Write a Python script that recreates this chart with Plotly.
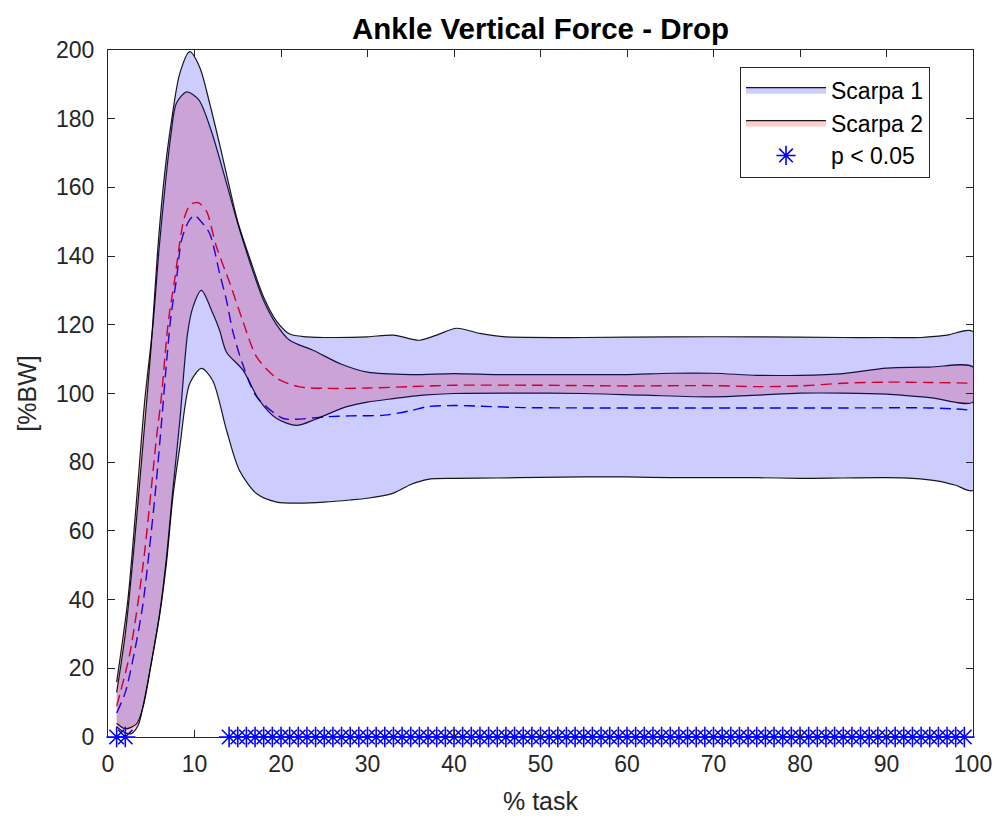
import plotly.graph_objects as go

# ---------------- data ----------------
# Scarpa 1 (blue) band
s1_upper_x = [1, 2, 3, 4, 5, 5.75, 6.55, 7.3, 8.3, 9.45, 10.6, 11.75, 13, 14, 15, 16.5, 18, 19.5, 21, 23, 26, 30, 33, 36, 38, 40.3, 43, 46, 55, 65, 75, 85, 90, 94, 97, 100]
s1_upper_y = [13, 30, 55, 84, 114, 142, 164, 178.7, 193.2, 199.5, 195, 184.5, 171.5, 160.5, 150, 138.5, 128, 121, 117.3, 116.5, 116.3, 116.5, 117, 115.5, 117, 119, 117.5, 116.5, 116.3, 116.5, 116.5, 116.3, 116.3, 116.3, 117, 118]
s1_lower_x = [1, 2, 3.3, 4.05, 5, 6, 6.75, 7.5, 8.3, 9.45, 10.8, 12.1, 13.7, 15.2, 17.2, 19.5, 22.2, 25, 28, 30, 33, 35, 37, 40, 45, 50, 55, 60, 65, 70, 75, 80, 85, 90, 93, 96, 98, 100]
s1_lower_y = [4, 2.4, 3.8, 8.7, 21.4, 36, 50.5, 69.9, 84.4, 102.9, 107.3, 103.8, 89.3, 77.6, 70.8, 68.4, 68.1, 68.4, 69, 69.5, 71, 73.5, 75, 75.3, 75.4, 75.6, 75.7, 75.7, 75.5, 75.5, 75.5, 75.3, 75.4, 75.5, 75.3, 74.5, 73.3, 71.8]
s1_mean_x = [1, 2, 3, 4, 4.8, 5.5, 6.2, 6.8, 7.3, 7.9, 8.5, 9.3, 10.0, 10.6, 11.75, 12.9, 13.7, 14.4, 15.5, 17.2, 20.2, 21.8, 25, 28, 32, 35, 37, 40, 43, 48, 55, 65, 75, 85, 95, 98, 100]
s1_mean_y = [7, 13, 24, 38, 55, 72, 92, 110, 123, 133, 144.6, 150, 151.9, 150.5, 146.6, 135, 127.1, 118.4, 109, 99, 92.8, 92.5, 93.2, 93.5, 93.7, 95, 96.2, 96.5, 96.3, 95.9, 95.8, 95.8, 95.8, 95.8, 95.8, 95.5, 95.1]

# Scarpa 2 (red) band
s2_upper_x = [1, 2.3, 3.3, 4.25, 5.2, 5.9, 6.75, 7.3, 7.9, 9.1, 10.5, 12, 13.5, 15, 16.5, 18, 19.5, 21, 23.7, 27, 30, 35, 40, 45, 50, 55, 60, 65, 70, 75, 80, 85, 90, 95, 100]
s2_upper_y = [16, 40, 69, 98, 120, 142, 164, 175.8, 184.5, 187.8, 185.5, 176, 163, 149.5, 137.5, 127, 120, 115.5, 112.6, 108.5, 106.2, 105.5, 105.8, 105.5, 105.5, 105.5, 105.5, 105.9, 105.9, 105.3, 105.3, 105.8, 107.4, 107.7, 107.7]
s2_lower_x = [1, 2, 2.7, 3.5, 4.05, 5, 6, 6.75, 7.5, 8.3, 9.2, 9.8, 10.8, 12.1, 12.9, 13.7, 15.6, 17.5, 19.5, 21.8, 24, 27.5, 30, 33, 36.4, 40, 46.7, 55, 62, 70, 75, 80, 85, 90, 95, 100]
s2_lower_y = [3, 1.2, 1, 3.5, 9, 21.5, 36.5, 52, 72, 92, 117.5, 125, 130, 123.4, 118.4, 112, 106.8, 98, 92.7, 90.7, 92.5, 96.1, 97.5, 98.5, 99.5, 100, 100.1, 100, 99.5, 99, 99.5, 100.1, 100.1, 99.8, 98.8, 97.5]
s2_mean_x = [1, 2.5, 4.05, 5.6, 6.17, 6.75, 7.1, 7.7, 8.3, 8.8, 9.5, 10.0, 10.5, 11.4, 12.5, 14.1, 15.6, 17.2, 19.5, 22, 25, 30, 35, 40, 50, 60, 70, 75, 80, 85, 90, 95, 100]
s2_mean_y = [9, 24, 50, 87, 99, 115.5, 123.4, 133, 144, 151, 155, 155.5, 155.5, 153, 143, 132, 121, 110.6, 104.5, 102, 101.5, 101.6, 102, 102.4, 102.4, 102.2, 102.3, 102, 102.2, 103, 103.3, 103.2, 103]

# % task positions with p < 0.05
sig_x = [1, 2, 14, 15, 16, 17, 18, 19, 20, 21, 22, 23, 24, 25, 26, 27, 28, 29, 30, 31, 32, 33,
         34, 35, 36, 37, 38, 39, 40, 41, 42, 43, 44, 45, 46, 47, 48, 49, 50, 51, 52, 53, 54, 55,
         56, 57, 58, 59, 60, 61, 62, 63, 64, 65, 66, 67, 68, 69, 70, 71, 72, 73, 74, 75, 76, 77,
         78, 79, 80, 81, 82, 83, 84, 85, 86, 87, 88, 89, 90, 91, 92, 93, 94, 95, 96, 97, 98, 99]
sig_y = [0] * len(sig_x)

x_ticks = [0, 10, 20, 30, 40, 50, 60, 70, 80, 90, 100]
y_ticks = [0, 20, 40, 60, 80, 100, 120, 140, 160, 180, 200]

TITLE = "Ankle Vertical Force - Drop"
XLABEL = "% task"
YLABEL = "[%BW]"
# ----------------------------------------------------------------

FONT = "Liberation Sans, Arial, Helvetica, sans-serif"
AX = "#262626"
EDGE = "rgba(0,0,0,0.9)"

fig = go.Figure()

# mean curves (drawn first, the translucent bands tint them)
fig.add_trace(go.Scatter(x=s1_mean_x, y=s1_mean_y, mode="lines", showlegend=False,
                         line=dict(color="rgb(0,0,255)", width=1.4, dash="11px,6px", shape="spline", smoothing=0.8),
                         hoverinfo="skip"))
fig.add_trace(go.Scatter(x=s2_mean_x, y=s2_mean_y, mode="lines", showlegend=False,
                         line=dict(color="rgb(255,0,0)", width=1.4, dash="11px,6px", shape="spline", smoothing=0.8),
                         hoverinfo="skip"))

# bands as closed polygons (red first, blue over it gives the lavender overlap)
fig.add_trace(go.Scatter(x=s2_upper_x + s2_lower_x[::-1], y=s2_upper_y + s2_lower_y[::-1],
                         mode="lines", fill="toself", fillcolor="rgba(255,0,0,0.2)",
                         line=dict(color=EDGE, width=1.2, shape="spline", smoothing=0.8),
                         name="Scarpa 2", legendrank=2))
fig.add_trace(go.Scatter(x=s1_upper_x + s1_lower_x[::-1], y=s1_upper_y + s1_lower_y[::-1],
                         mode="lines", fill="toself", fillcolor="rgba(0,0,255,0.2)",
                         line=dict(color=EDGE, width=1.2, shape="spline", smoothing=0.8),
                         name="Scarpa 1", legendrank=1))

# significance markers
fig.add_trace(go.Scatter(x=sig_x, y=sig_y, mode="markers", name="p < 0.05", cliponaxis=False,
                         legendrank=3,
                         marker=dict(symbol="asterisk-open", size=17, color="rgb(0,0,255)",
                                     line=dict(color="rgb(0,0,255)", width=1.6))))

axis_common = dict(showgrid=False, zeroline=False, showline=True, linecolor=AX, linewidth=1,
                   mirror="ticks", ticks="inside", ticklen=7, tickcolor=AX, tickwidth=1,
                   tickfont=dict(family=FONT, size=23, color=AX))

fig.update_xaxes(range=[0, 100], tickvals=x_ticks, ticklabelstandoff=6,
                 title=dict(text=XLABEL, font=dict(family=FONT, size=25, color=AX), standoff=16),
                 **axis_common)
fig.update_yaxes(range=[0, 200], tickvals=y_ticks, ticklabelstandoff=8,
                 title=dict(text=YLABEL, font=dict(family=FONT, size=25, color=AX), standoff=12),
                 **axis_common)

fig.update_layout(
    width=1001, height=824,
    margin=dict(l=108, r=28, t=50, b=87, autoexpand=False),
    paper_bgcolor="white", plot_bgcolor="white",
    title=dict(text="<b>" + TITLE + "</b>", x=0.5, xref="paper", xanchor="center",
               y=1 - 29 / 824, yref="container", yanchor="middle",
               font=dict(family=FONT, size=29.5, color="black")),
    legend=dict(x=0.9503, y=0.975, xanchor="right", yanchor="top",
                bgcolor="white", bordercolor="#262626", borderwidth=1,
                font=dict(family=FONT, size=23, color="black"),
                itemwidth=80, tracegroupgap=0, traceorder="normal"),
    showlegend=True,
)

fig.write_html("out.html")
